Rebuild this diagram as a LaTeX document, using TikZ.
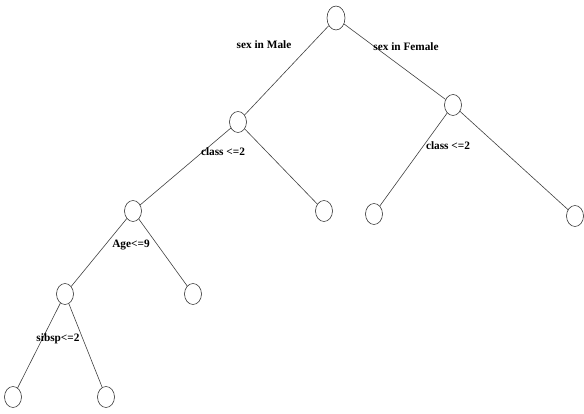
\documentclass[tikz,border=0pt]{standalone}
\usepackage{fontspec}
\setmainfont{Liberation Serif}
\usetikzlibrary{shapes.geometric}
\begin{document}
\begin{tikzpicture}[x=1pt,y=-1pt,
  treenode/.style={draw=black!80, line width=0.6pt, ellipse, minimum width=17pt, minimum height=21pt, inner sep=0pt},
  rootnode/.style={treenode, minimum width=18pt, minimum height=24pt},
  branch/.style={draw=black!75, line width=0.6pt},
  lbl/.style={font=\bfseries\fontsize{11.3}{12}\selectfont, inner sep=0pt}]
\useasboundingbox (0,0) rectangle (584,414);
% decision nodes and leaves
\node[rootnode] (root) at (336,18) {};
\node[treenode] (male) at (238,122) {};
\node[treenode] (female) at (453,105) {};
\node[treenode] (mleft) at (133,211) {};
\node[treenode] (mright) at (324,211) {};
\node[treenode] (fleft) at (374,214) {};
\node[treenode] (fright) at (575,216) {};
\node[treenode] (young) at (65,294) {};
\node[treenode] (old) at (193,294) {};
\node[treenode] (sleft) at (13,397) {};
\node[treenode] (sright) at (106,397) {};
% branches
\draw[branch] (root) -- (male);
\draw[branch] (root) -- (female);
\draw[branch] (male) -- (mleft);
\draw[branch] (male) -- (mright);
\draw[branch] (female) -- (fleft);
\draw[branch] (female) -- (fright);
\draw[branch] (mleft) -- (young);
\draw[branch] (mleft) -- (old);
\draw[branch] (young) -- (sleft);
\draw[branch] (young) -- (sright);
% split conditions
\node[lbl] (l1) at (264,45) {sex in Male};
\node[lbl] (l2) at (406,47) {sex in Female};
\node[lbl] (l3) at (223,152) {class <=2};
\node[lbl] (l4) at (448,146) {class <=2};
\node[lbl] (l5) at (131,245) {Age<=9};
\node[lbl] (l6) at (58,339) {sibsp<=2};
\end{tikzpicture}
\end{document}
